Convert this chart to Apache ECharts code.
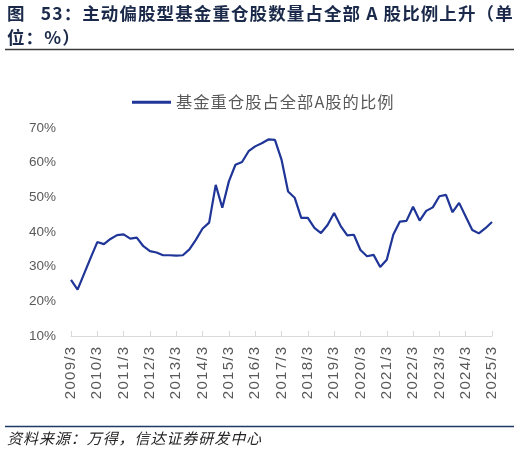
<!DOCTYPE html>
<html>
<head>
<meta charset="utf-8">
<script src="https://cdn.jsdelivr.net/npm/echarts@6/dist/echarts.min.js"></script>
<style>
html,body{margin:0;padding:0;background:#fff;}
#main{width:520px;height:457px;}
</style>
</head>
<body>
<div id="main"></div>
<script>
var titleLine1 = '图   53：主动偏股型基金重仓股数量占全部 A 股比例上升（单';
var titleLine2 = '位：%）';
var seriesName = '基金重仓股占全部A股的比例';
var sourceText = '资料来源：万得，信达证券研发中心';

var years = [2009,2010,2011,2012,2013,2014,2015,2016,2017,2018,2019,2020,2021,2022,2023,2024,2025];
var quarters = ['3','6','9','12'];
var categories = [];
years.forEach(function(y){
  quarters.forEach(function(q){
    if (y === 2025 && q !== '3') return;
    categories.push(y + '/' + q);
  });
});

var ratio = [
  26.2, 23.4, 28.0, 32.6,
  37.1, 36.5, 38.0, 39.1,
  39.3, 38.1, 38.4, 35.9,
  34.5, 34.1, 33.3, 33.3,
  33.2, 33.3, 35.0, 37.8,
  41.0, 42.7, 53.6, 47.0,
  54.6, 59.4, 60.2, 63.3,
  64.7, 65.6, 66.7, 66.6,
  60.9, 51.7, 49.9, 44.1,
  44.1, 41.2, 39.7, 42.0,
  45.5, 41.7, 39.0, 39.2,
  34.8, 33.0, 33.4, 29.9,
  32.0, 39.3, 43.0, 43.2,
  47.3, 43.3, 46.1, 47.1,
  50.3, 50.7, 45.7, 48.4,
  44.5, 40.6, 39.6, 41.1,
  42.9
];

var yMin = 10, yMax = 70, yStep = 10;

function spaced(s, sep) {
  return s.split('').join(sep || '\u200A');
}

var chart = echarts.init(document.getElementById('main'), null, {renderer:'canvas'});
var cjk = '"Noto Sans CJK SC", "Noto Sans", sans-serif';
var latin = 'Arial, "Liberation Sans", "Noto Sans CJK SC", sans-serif';

chart.setOption({
  animation: false,
  backgroundColor: '#fff',
  legend: {
    top: 89,
    left: 127,
    itemWidth: 39,
    itemHeight: 3,
    itemGap: 6,
    icon: 'rect',
    formatter: function(n){ return spaced(n); },
    textStyle: {color: '#595959', fontSize: 16.3, fontFamily: cjk},
    data: [seriesName]
  },
  grid: {left: 71, right: 28, top: 128, bottom: 121, containLabel: false},
  xAxis: {
    type: 'category',
    data: categories,
    boundaryGap: false,
    axisLine: {show: true, lineStyle: {color: '#d9d9d9', width: 1}},
    axisTick: {show: true, inside: true, length: 5, interval: 3, lineStyle: {color: '#d9d9d9'}},
    axisLabel: {interval: 3, rotate: 90, color: '#595959', fontSize: 15, fontFamily: latin, margin: 11,
      formatter: function(v){ return spaced(v); }},
    splitLine: {show: false}
  },
  yAxis: {
    type: 'value',
    min: yMin, max: yMax, interval: yStep,
    axisLine: {show: false},
    axisTick: {show: false},
    splitLine: {show: false},
    axisLabel: {formatter: '{value}%', color: '#595959', fontSize: 13.5, fontFamily: latin, margin: 15}
  },
  series: [{
    name: seriesName,
    type: 'line',
    data: ratio,
    symbol: 'none',
    lineStyle: {color: '#1f3597', width: 2.2},
    itemStyle: {color: '#1f3597'}
  }],
  graphic: [
    {type: 'text', left: 7, top: 5, style: {text: spaced(titleLine1), fill: '#1b2a4a', font: 'bold 17.5px ' + cjk}},
    {type: 'text', left: 7, top: 29, style: {text: spaced(titleLine2), fill: '#1b2a4a', font: 'bold 17.5px ' + cjk}},
    {type: 'line', shape: {x1: 5, y1: 49.5, x2: 514, y2: 49.5}, style: {stroke: '#3a3a3a', lineWidth: 1.5}},
    {type: 'line', shape: {x1: 5, y1: 426.5, x2: 514, y2: 426.5}, style: {stroke: '#1f3864', lineWidth: 1.5}},
    {type: 'text', left: 7, top: 431, style: {text: spaced(sourceText), fill: '#262626', font: 'italic 15px ' + cjk}}
  ]
});
</script>
</body>
</html>
